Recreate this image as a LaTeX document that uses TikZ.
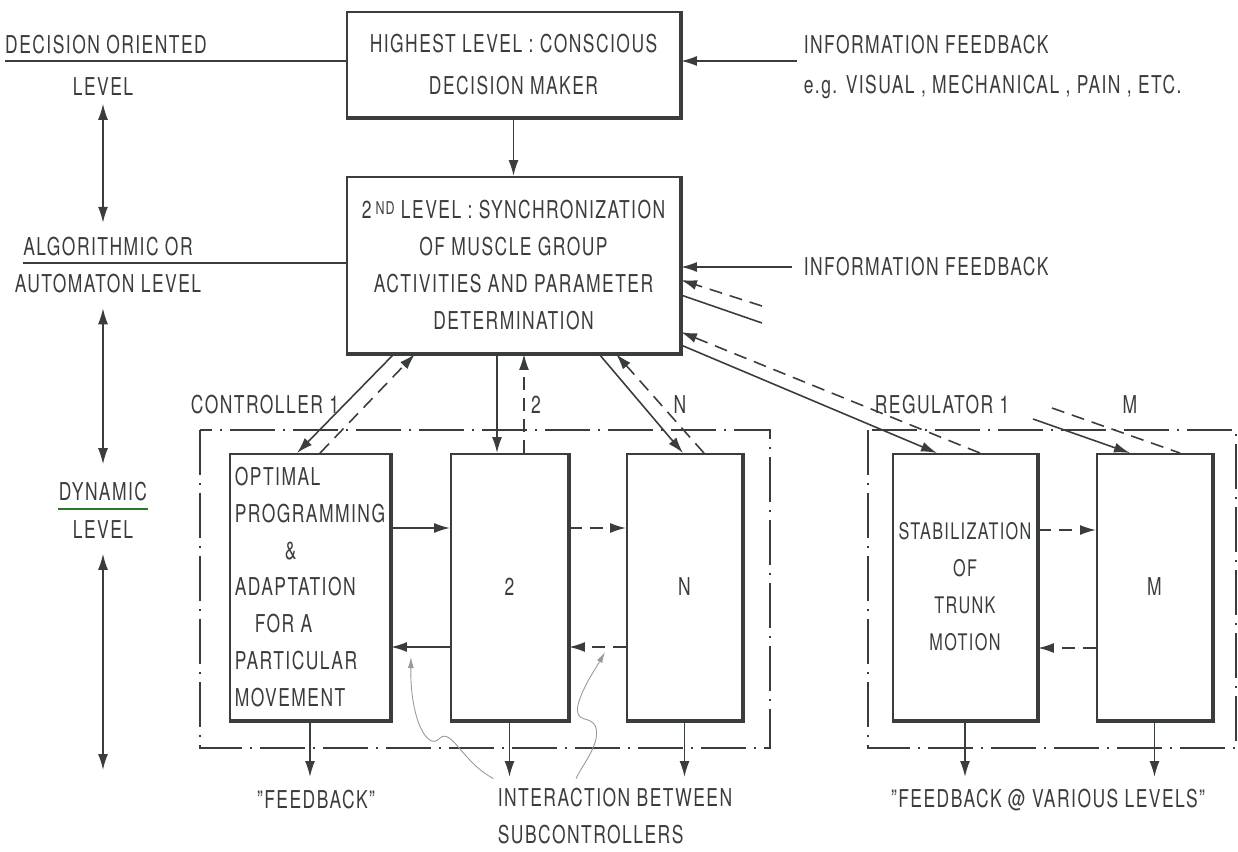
\documentclass[tikz,border=0pt]{standalone}
\usepackage{fontspec}
\setmainfont{TeX Gyre Heros}[FakeStretch=0.71,LetterSpace=6]
\usetikzlibrary{arrows.meta,calc}
\definecolor{ink}{RGB}{58,62,58}
\definecolor{pencil}{RGB}{150,155,150}
\tikzset{
  lbl/.style={text=ink,font=\fontsize{14}{21}\selectfont,align=center,inner sep=0pt},
  box/.style={lbl,draw=ink,line width=1.1pt},
  arr/.style={-{Latex[length=0.32cm,width=0.2cm]}},
  darr/.style={{Latex[length=0.32cm,width=0.2cm]}-{Latex[length=0.32cm,width=0.2cm]}},
  dsh/.style={dash pattern=on 0.26cm off 0.16cm},
  frame/.style={dash pattern=on 0.9cm off 0.16cm on 0.04cm off 0.16cm,line width=0.9pt},
  thin/.style={draw=pencil,line width=0.5pt,-{Latex[length=0.22cm,width=0.12cm]}}
}

\begin{document}
\begin{tikzpicture}[x=0.02cm,y=-0.02cm,line width=0.9pt,draw=ink,color=ink]
\useasboundingbox (0,0) rectangle (1238,852);

% Upper levels
\node[box,minimum width=6.66cm,minimum height=2.1cm] (top) at (513.5,64.5)
  {HIGHEST LEVEL : CONSCIOUS\\[3pt]DECISION MAKER};
\node[box,minimum width=6.66cm,minimum height=3.52cm] (sec) at (513.5,265)
  {2\,\raisebox{.35ex}{\fontsize{10}{10}\selectfont ND} LEVEL : SYNCHRONIZATION\\
   OF MUSCLE GROUP\\ ACTIVITIES AND PARAMETER\\ DETERMINATION};

% Controllers
\node[box,minimum width=3.2cm,minimum height=5.32cm,align=left] (opt) at (310,587)
  {OPTIMAL\\PROGRAMMING\\\hspace{1cm}\&\\ADAPTATION\\\hspace{0.4cm}FOR A\\PARTICULAR\\MOVEMENT};
\node[box,minimum width=2.34cm,minimum height=5.32cm] (b2) at (509.5,587) {2};
\node[box,minimum width=2.3cm,minimum height=5.32cm] (bN) at (684.5,587) {N};

% Regulators
\node[box,minimum width=2.88cm,minimum height=5.32cm,font=\fontsize{13}{21}\selectfont] (stab) at (965,587)
  {STABILIZATION\\OF\\TRUNK\\MOTION};
\node[box,minimum width=2.3cm,minimum height=5.32cm] (bM) at (1154.5,587) {M};

% heavier right and bottom edges
\foreach \b in {top,sec,opt,b2,bN,stab,bM}
  \draw[line width=1.8pt] (\b.north east) -- (\b.south east) -- (\b.south west);

% Level labels
\node[lbl] (dec) at (106,45) {DECISION ORIENTED};
\node[lbl] (declev) at (103,87) {LEVEL};
\node[lbl] (alg) at (108,247) {ALGORITHMIC OR};
\node[lbl] (aut) at (108,284) {AUTOMATON LEVEL};
\node[lbl] (dyn) at (103,492) {DYNAMIC};
\node[lbl] (dynlev) at (103,530) {LEVEL};
\draw[draw=ink!70!green] ([yshift=-4pt]dyn.south west) -- ([yshift=-4pt]dyn.south east);

\coordinate (dl) at (5,61);
\draw (dl) -- (dl -| top.west);
\coordinate (al) at (23,263);
\draw (al) -- (al -| sec.west);

\draw[darr] ([yshift=-4pt]declev.south) -- ([yshift=8pt]declev.south |- alg.north);
\draw[darr] ([yshift=-8pt]declev.south |- aut.south) -- ([yshift=10pt]dyn.north);
\coordinate (dend) at (103,770);
\draw[darr] ([yshift=-8pt]dynlev.south) -- (dend);

% Information feedback
\node[lbl,anchor=west] (info) at (803,45) {INFORMATION FEEDBACK};
\node[lbl,anchor=west] (eg) at (803,87) {e.g. VISUAL , MECHANICAL , PAIN , ETC.};
\node[lbl,anchor=west] (info2) at (803,267) {INFORMATION FEEDBACK};
\coordinate (if1) at (797,61);
\draw[arr] (if1) -- (if1 -| top.east);
\draw[arr] ([xshift=-6pt]info2.west) -- (sec.east |- info2.west);
\draw[arr] (top.south) -- (sec.north);

\coordinate (fd1) at (762,306);
\coordinate (fs1) at (762,323);
\draw[dsh,arr] (fd1) -- (sec.east |- 0,280);
\draw (sec.east |- 0,295) -- (fs1);

% Branch labels
\node[lbl] (ctl) at (265,405) {CONTROLLER 1};
\node[lbl] (two) at (536,405) {2};
\node[lbl] (nn) at (680,405) {N};
\node[lbl] (reg) at (942,405) {REGULATOR 1};
\node[lbl] (mm) at (1130,405) {M};

% Commands down, feedback up
\draw[arr] (sec.south -| 394,0) -- (opt.north -| 297,0);
\draw[dsh,arr] (opt.north -| 320,0) -- (sec.south -| 415,0);
\draw[arr] (sec.south -| 497,0) -- (b2.north -| 497,0);
\draw[dsh,arr] (b2.north -| 524,0) -- (sec.south -| 524,0);
\draw[arr] (sec.south -| 599,0) -- (bN.north -| 683,0);
\draw[dsh,arr] (bN.north -| 704,0) -- (sec.south -| 616,0);
\draw[arr] (sec.east |- 0,345) -- (stab.north -| 937,0);
\draw[dsh,arr] (stab.north -| 980,0) -- (sec.east |- 0,332);
\coordinate (ms) at (1033,419);
\coordinate (md) at (1052,408);
\draw[arr] (ms) -- (bM.north -| 1130,0);
\draw[dsh] (md) -- (bM.north -| 1180,0);

% Interaction between subcontrollers
\draw[arr] (opt.east |- 0,528) -- (b2.west |- 0,528);
\draw[arr] (b2.west |- 0,647) -- (opt.east |- 0,647);
\draw[dsh,arr] (b2.east |- 0,528) -- (bN.west |- 0,528);
\draw[dsh,arr] (bN.west |- 0,647) -- (b2.east |- 0,647);
\draw[dsh,arr] (stab.east |- 0,530) -- (bM.west |- 0,530);
\draw[dsh,arr] (bM.west |- 0,648) -- (stab.east |- 0,648);

% Subsystem frames
\draw[frame] (200,430) rectangle (770,748);
\draw[frame] (868,430) rectangle (1236,748);

% Outputs
\node[lbl] (fb) at (316,800) {"FEEDBACK"};
\node[lbl,align=left,anchor=west] (inter) at (497,816) {INTERACTION BETWEEN\\SUBCONTROLLERS};
\node[lbl] (fbv) at (1048,800) {"FEEDBACK @ VARIOUS LEVELS"};
\draw[arr] (opt.south) -- (opt.south |- 0,777);
\draw[arr] (b2.south) -- (b2.south |- 0,777);
\draw[arr] (bN.south) -- (bN.south |- 0,777);
\draw[arr] (stab.south) -- (stab.south |- 0,777);
\draw[arr] (bM.south) -- (bM.south |- 0,777);

\draw[thin] ([xshift=-2pt,yshift=5pt]inter.north west) .. controls (462,762) and (452,728) .. (440,738)
  .. controls (428,752) and (410,720) .. (411,657);
\draw[thin] ([xshift=45pt,yshift=5pt]inter.north west) .. controls (582,765) and (600,745) .. (596,728)
  .. controls (592,714) and (574,725) .. (578,705) .. controls (582,688) and (596,668) .. (605,652);

\end{tikzpicture}
\end{document}
